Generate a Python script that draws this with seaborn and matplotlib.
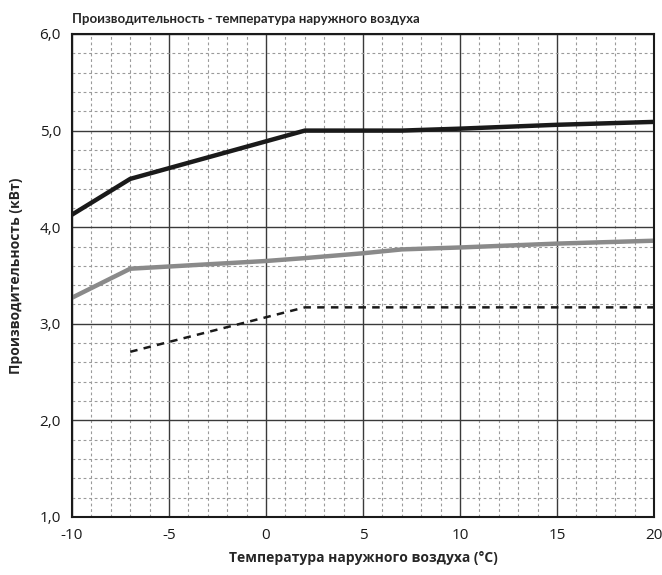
import numpy as np
import pandas as pd
import seaborn as sns
import matplotlib.pyplot as plt
from matplotlib.ticker import MultipleLocator, FuncFormatter

# --- Data ---
temp_black = [-10, -7, 2, 7, 10, 15, 20]
cap_black = [4.13, 4.50, 5.00, 5.00, 5.02, 5.06, 5.09]

temp_gray = [-10, -7, 0, 2, 5, 7, 10, 15, 20]
cap_gray = [3.27, 3.57, 3.65, 3.68, 3.73, 3.77, 3.79, 3.83, 3.86]

temp_dash = [-7, 2, 20]
cap_dash = [2.71, 3.17, 3.17]

title = "Производительность - температура наружного воздуха"
xlabel = "Температура наружного воздуха (°C)"
ylabel = "Производительность (кВт)"

sns.set_style("white")
plt.rcParams['font.family'] = ['Open Sans', 'DejaVu Sans']
plt.rcParams['axes.unicode_minus'] = False

fig = plt.figure(figsize=(6.62, 5.75), dpi=100)
ax = fig.add_axes([0.1088, 0.1009, 0.8792, 0.84])

sns.lineplot(x=temp_black, y=cap_black, ax=ax, color='#1a1a1a', linewidth=3.2)
sns.lineplot(x=temp_gray, y=cap_gray, ax=ax, color='#8a8a8a', linewidth=3.2)
sns.lineplot(x=temp_dash, y=cap_dash, ax=ax, color='#1a1a1a', linewidth=1.8,
             linestyle=(0, (3, 2.5)))

ax.set_xlim(-10, 20)
ax.set_ylim(1.0, 6.0)
ax.xaxis.set_major_locator(MultipleLocator(5))
ax.xaxis.set_minor_locator(MultipleLocator(1))
ax.yaxis.set_major_locator(MultipleLocator(1))
ax.yaxis.set_minor_locator(MultipleLocator(0.2))
ax.xaxis.set_major_formatter(FuncFormatter(lambda v, p: f"{v:.0f}"))
ax.yaxis.set_major_formatter(FuncFormatter(lambda v, p: f"{v:.1f}".replace('.', ',')))

ax.grid(which='minor', color='#9a9a9a', linestyle=(0, (2.5, 2.5)), linewidth=0.8)
ax.grid(which='major', color='#3a3a3a', linestyle='-', linewidth=1.0)
ax.set_axisbelow(True)

ax.tick_params(which='both', length=0, labelsize=11, colors='#1a1a1a', pad=8)
for s in ax.spines.values():
    s.set_color('#1a1a1a')
    s.set_linewidth(1.5)

ax.set_xlabel(xlabel, fontsize=10, fontweight='bold', labelpad=6)
ax.set_ylabel(ylabel, fontsize=10, fontweight='bold', labelpad=12)
fig.text(0.1088, 0.967, title, fontsize=9.5, fontweight='bold', ha='left', va='center',
         family=['Lato', 'DejaVu Sans'])

plt.savefig("out.png", dpi=100)
